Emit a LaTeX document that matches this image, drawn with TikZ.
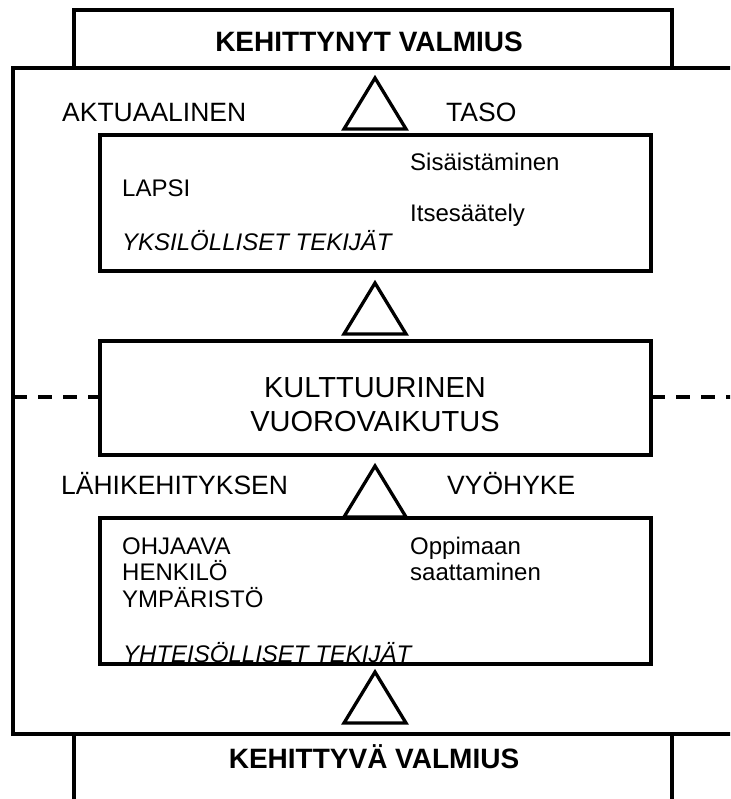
\documentclass[tikz,border=0pt]{standalone}
\usepackage{fontspec}
\setmainfont{Liberation Sans}
\begin{document}
\begin{tikzpicture}[x=1pt,y=-1pt,
  frame/.style={draw=black,line width=3.6pt},
  box/.style={draw=black,line width=3.2pt,rectangle,inner sep=0pt,outer sep=0pt,anchor=north west},
  tri/.style={draw=black,line width=3.3pt,line join=miter},
  dashline/.style={draw=black,line width=3.4pt,dash pattern=on 14pt off 11pt},
  title/.style={font=\fontsize{28}{34}\selectfont\bfseries,inner sep=0pt,anchor=base},
  level/.style={font=\fontsize{26.5}{32}\selectfont,inner sep=0pt,anchor=base west},
  item/.style={font=\fontsize{24}{26.5}\selectfont,inner sep=0pt,anchor=base west},
  factor/.style={font=\fontsize{24}{26.5}\selectfont\itshape,inner sep=0pt,anchor=base west},
  centre/.style={font=\fontsize{29}{34}\selectfont,inner sep=0pt,align=center},
  uptri/.pic={\draw[tri] (0,0) -- (31,51) -- (-31,51) -- cycle;}]
\useasboundingbox (0,0) rectangle (730,799);
\fill[white] (0,0) rectangle (730,799);
\clip (0,0) rectangle (730,799);

% outer frame of the zone, running past the right and lower edges
\node[box,frame,minimum width=740,minimum height=666] (zone) at (13,68) {};
% developed and developing readiness boxes
\node[box,minimum width=598,minimum height=58] (topbox) at (74,10) {};
\node[box,minimum width=598,minimum height=80] (botbox) at (74,734) {};
\node[title] (toptxt) at (369,52) {KEHITTYNYT VALMIUS};
\node[title] (bottxt) at (374,768) {KEHITTYVÄ VALMIUS};

% individual factors
\node[box,minimum width=551,minimum height=136] (child) at (100,135) {};
\node[item] (lapsi) at (122,196.5) {LAPSI};
\node[item] (sis) at (410,170.5) {Sisäistäminen};
\node[item] (itse) at (410,222) {Itsesäätely};
\node[factor] (yks) at (122,250.5) {YKSILÖLLISET TEKIJÄT};

% cultural interaction with the dividing line
\draw[dashline] (13,397) -- (100,397);
\draw[dashline] (651,397) -- (740,397);
\node[box,fill=white,minimum width=551,minimum height=114] (culture) at (100,341) {};
\node[centre] (cultxt) at (375,405) {KULTTUURINEN\\VUOROVAIKUTUS};

% social factors
\node[box,minimum width=551,minimum height=146] (social) at (100,518) {};
\node[item] (ohj) at (122,554) {OHJAAVA};
\node[item] (henk) at (122,580.5) {HENKILÖ};
\node[item] (ymp) at (122,607) {YMPÄRISTÖ};
\node[item] (opp) at (410,554) {Oppimaan};
\node[item] (saat) at (410,580.5) {saattaminen};
\node[factor] (yht) at (123,662) {YHTEISÖLLISET TEKIJÄT};

% level labels
\node[level] (akt) at (62,121.5) {AKTUAALINEN};
\node[level] (taso) at (446,121.5) {TASO};
\node[level] (lahi) at (61,494) {LÄHIKEHITYKSEN};
\node[level] (vyo) at (447,494) {VYÖHYKE};

% upward triangles between the levels
\pic at (375,78) {uptri};
\pic at (375,283) {uptri};
\pic at (375,466) {uptri};
\pic at (375,672) {uptri};
\end{tikzpicture}
\end{document}
